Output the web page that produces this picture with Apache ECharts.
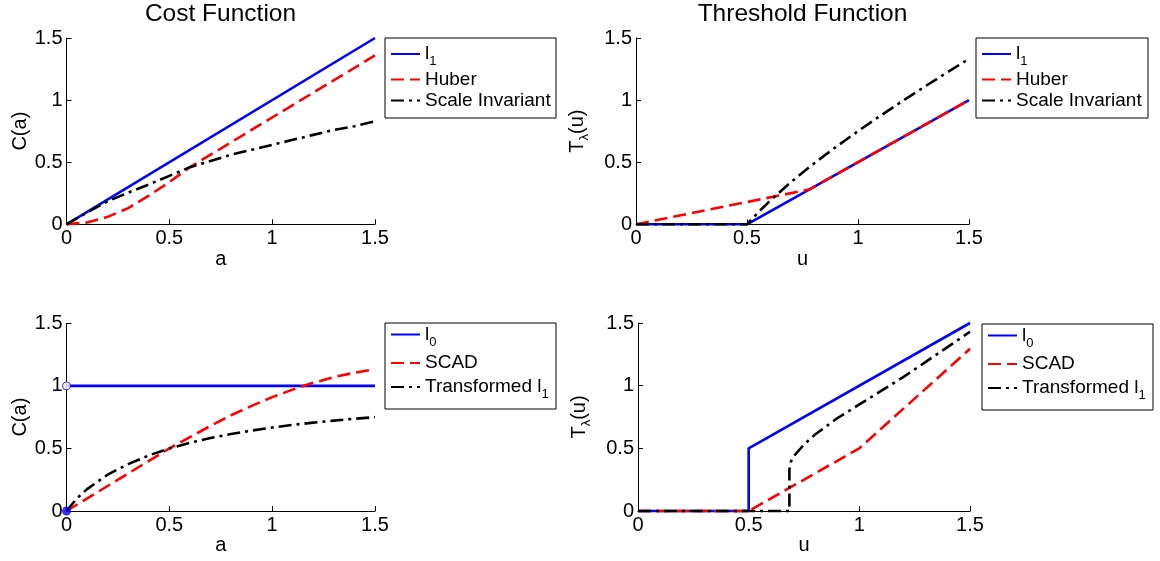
<!DOCTYPE html>
<html>
<head>
<meta charset="utf-8">
<script src="https://cdn.jsdelivr.net/npm/echarts@6/dist/echarts.min.js"></script>
<style>
html,body{margin:0;padding:0;background:#fff;}
#chart{width:1160px;height:561px;}
</style>
</head>
<body>
<div id="chart"></div>
<script>
// ---------- data ----------
const tickValues = [0, 0.5, 1, 1.5];
const tickLabels = ['0', '0.5', '1', '1.5'];
const titles = ['Cost Function', 'Threshold Function'];
const xNames = ['a', 'u', 'a', 'u'];

// Top-left: cost functions
const costL1X = [0, 1.5];
const costL1Y = [0, 1.5];
const costHuberX = [0, 0.1, 0.2, 0.3, 0.4, 0.5, 0.6, 0.75, 1.0, 1.25, 1.5];
const costHuberY = [0, 0.015, 0.06, 0.13, 0.23, 0.34, 0.46, 0.61, 0.86, 1.11, 1.36];
const costScaleX = [0, 0.1, 0.2, 0.3, 0.4, 0.5, 0.6, 0.7, 0.8, 0.9, 1.0, 1.1, 1.2, 1.3, 1.4, 1.5];
const costScaleY = [0, 0.095, 0.185, 0.255, 0.32, 0.39, 0.46, 0.51, 0.56, 0.60, 0.64, 0.68, 0.72, 0.76, 0.79, 0.83];

// Top-right: threshold functions
const thrL1X = [0, 0.5, 1.5];
const thrL1Y = [0, 0, 1.0];
const thrHuberX = [0, 0.78, 1.5];
const thrHuberY = [0, 0.28, 1.0];
const thrScaleX = [0, 0.5, 0.55, 0.6, 0.7, 0.8, 0.9, 1.0, 1.1, 1.2, 1.3, 1.4, 1.5];
const thrScaleY = [0, 0, 0.095, 0.183, 0.343, 0.488, 0.622, 0.75, 0.873, 0.992, 1.108, 1.221, 1.333];

// Bottom-left: cost functions
const costL0X = [0, 1.5];
const costL0Y = [1, 1];
const costL0OpenPoint = [0, 1];
const costL0FilledPoint = [0, 0];
const costScadX = [0, 0.5, 0.6, 0.7, 0.8, 0.9, 1.0, 1.1, 1.2, 1.3, 1.4, 1.5];
const costScadY = [0, 0.5, 0.59, 0.68, 0.765, 0.84, 0.91, 0.97, 1.025, 1.07, 1.105, 1.133];
const costTl1X = [0, 0.05, 0.1, 0.2, 0.3, 0.4, 0.5, 0.6, 0.7, 0.8, 0.9, 1.0, 1.1, 1.2, 1.3, 1.4, 1.5];
const costTl1Y = [0, 0.1, 0.175, 0.29, 0.375, 0.444, 0.5, 0.545, 0.583, 0.615, 0.643, 0.667, 0.688, 0.706, 0.722, 0.737, 0.75];

// Bottom-right: threshold functions
const thrL0X = [0, 0.5, 0.5, 1.5];
const thrL0Y = [0, 0, 0.5, 1.5];
const thrScadX = [0, 0.5, 1.0, 1.5];
const thrScadY = [0, 0, 0.5, 1.294];
const thrTl1X = [0, 0.684, 0.684, 0.69, 0.70, 0.72, 0.75, 0.8, 0.9, 1.0, 1.1, 1.2, 1.3, 1.4, 1.5];
const thrTl1Y = [0, 0, 0.33, 0.39, 0.43, 0.47, 0.53, 0.61, 0.74, 0.85, 0.96, 1.07, 1.19, 1.31, 1.43];

const topNames = ['l1', 'Huber', 'Scale Invariant'];
const bottomNames = ['l0', 'SCAD', 'Transformed l1'];

// ---------- styling ----------
const FONT = '"Liberation Sans", Arial, Helvetica, sans-serif';
const TICK_FS = 20;
const LABEL_FS = 20;
const LEGEND_FS = 19;
const TITLE_FS = 24.5;
const grids = [
  {left: 66.5, top: 38, width: 308.5, height: 186.3},
  {left: 636, top: 38, width: 333, height: 186.3},
  {left: 66.5, top: 323.3, width: 308.5, height: 187.7},
  {left: 638, top: 323, width: 332, height: 188}
];
const styles = {
  'l1': {color: '#0000ff', type: 'solid'},
  'l0': {color: '#0000ff', type: 'solid'},
  'Huber': {color: '#ff0000', type: [13, 6]},
  'SCAD': {color: '#ff0000', type: [13, 6]},
  'Scale Invariant': {color: '#000000', type: [13, 5, 3, 5]},
  'Transformed l1': {color: '#000000', type: [13, 5, 3, 5]}
};

function zip(xs, ys) { return xs.map((x, i) => [x, ys[i]]); }

function rich(fs) {
  return {
    n: {fontSize: fs, fontFamily: FONT, color: '#000'},
    s: {fontSize: 13, fontFamily: FONT, color: '#000', padding: [15, 0, 0, 0]}
  };
}

function legendFmt(name) {
  if (name === 'l1') return '{n|l}{s|1}';
  if (name === 'l0') return '{n|l}{s|0}';
  if (name === 'Transformed l1') return '{n|Transformed l}{s|1}';
  return '{n|' + name + '}';
}

function xAxis(i) {
  return {
    type: 'value', gridIndex: i, min: 0, max: 1.5, interval: 0.5,
    name: xNames[i], nameLocation: 'middle', nameGap: 20,
    nameTextStyle: {fontSize: LABEL_FS, color: '#000', fontFamily: FONT},
    axisLine: {show: true, onZero: false, lineStyle: {color: '#000', width: 1}},
    axisTick: {show: true, inside: true, length: 5, lineStyle: {color: '#000', width: 1}},
    axisLabel: {fontSize: TICK_FS, color: '#000', fontFamily: FONT, margin: 4,
      showMinLabel: true, showMaxLabel: true,
      formatter: v => tickLabels[tickValues.indexOf(v)]},
    splitLine: {show: false}
  };
}
function yAxis(i, isThreshold) {
  return {
    type: 'value', gridIndex: i, min: 0, max: 1.5, interval: 0.5,
    name: isThreshold ? '{n|T}{s|λ}{n|(u)}' : '{n|C(a)}',
    nameLocation: 'middle', nameGap: isThreshold ? 45 : 36, nameRotate: 90,
    nameTextStyle: {fontSize: LABEL_FS, color: '#000', fontFamily: FONT, rich: rich(LABEL_FS)},
    axisLine: {show: true, onZero: false, lineStyle: {color: '#000', width: 1}},
    axisTick: {show: true, inside: true, length: 5, lineStyle: {color: '#000', width: 1}},
    axisLabel: {fontSize: TICK_FS, color: '#000', fontFamily: FONT, margin: 4,
      showMinLabel: true, showMaxLabel: true,
      formatter: v => tickLabels[tickValues.indexOf(v)]},
    splitLine: {show: false}
  };
}
function lineSeries(name, gi, xs, ys) {
  const st = styles[name];
  return {
    type: 'line', name: name, xAxisIndex: gi, yAxisIndex: gi,
    data: zip(xs, ys), symbol: 'none', showSymbol: false, clip: false,
    lineStyle: {color: st.color, width: 2.6, type: st.type},
    itemStyle: {color: st.color},
    emphasis: {disabled: true}, silent: true
  };
}
function legend(names, left, top, gap) {
  return {
    data: names, orient: 'vertical', left: left, top: top, padding: 0,
    itemWidth: 29, itemHeight: 12, itemGap: gap, selectedMode: false,
    itemStyle: {color: 'transparent', borderColor: 'transparent', borderWidth: 0, opacity: 0},
    formatter: legendFmt,
    textStyle: {fontSize: LEGEND_FS, color: '#000', fontFamily: FONT, rich: rich(LEGEND_FS)}
  };
}
function legendBox(x, y, w, h) {
  return {type: 'rect', left: x, top: y, z: 0,
    shape: {width: w, height: h},
    style: {fill: '#fff', stroke: '#000', lineWidth: 1}};
}

const option = {
  animation: false,
  backgroundColor: '#fff',
  textStyle: {fontFamily: FONT},
  title: [
    {text: titles[0], left: 220.5, top: 2, textAlign: 'center', padding: 0,
      textStyle: {fontSize: TITLE_FS, fontWeight: 'normal', color: '#000', fontFamily: FONT}},
    {text: titles[1], left: 802.5, top: 2, textAlign: 'center', padding: 0,
      textStyle: {fontSize: TITLE_FS, fontWeight: 'normal', color: '#000', fontFamily: FONT}}
  ],
  grid: grids,
  xAxis: [xAxis(0), xAxis(1), xAxis(2), xAxis(3)],
  yAxis: [yAxis(0, false), yAxis(1, true), yAxis(2, false), yAxis(3, true)],
  legend: [
    legend(topNames, 390, 44.5, 2),
    legend(topNames, 981, 44.5, 2),
    legend(bottomNames, 390, 325, 5),
    legend(bottomNames, 987, 326, 5)
  ],
  graphic: [
    legendBox(384.5, 37.5, 171, 80),
    legendBox(975.5, 37.5, 172, 80),
    legendBox(384.5, 322.5, 171, 86),
    legendBox(981.5, 323.5, 171, 86)
  ],
  series: [
    lineSeries('l1', 0, costL1X, costL1Y),
    lineSeries('Huber', 0, costHuberX, costHuberY),
    lineSeries('Scale Invariant', 0, costScaleX, costScaleY),

    lineSeries('l1', 1, thrL1X, thrL1Y),
    lineSeries('Huber', 1, thrHuberX, thrHuberY),
    lineSeries('Scale Invariant', 1, thrScaleX, thrScaleY),

    lineSeries('l0', 2, costL0X, costL0Y),
    lineSeries('SCAD', 2, costScadX, costScadY),
    lineSeries('Transformed l1', 2, costTl1X, costTl1Y),
    {type: 'scatter', name: 'l0 open', xAxisIndex: 2, yAxisIndex: 2, data: [costL0OpenPoint],
      symbol: 'circle', symbolSize: 8, clip: false, z: 5, silent: true,
      itemStyle: {color: '#fff', borderColor: '#0000ff', borderWidth: 1}},
    {type: 'scatter', name: 'l0 filled', xAxisIndex: 2, yAxisIndex: 2, data: [costL0FilledPoint],
      symbol: 'circle', symbolSize: 9, clip: false, z: 5, silent: true,
      itemStyle: {color: '#0000ff'}},

    lineSeries('l0', 3, thrL0X, thrL0Y),
    lineSeries('SCAD', 3, thrScadX, thrScadY),
    lineSeries('Transformed l1', 3, thrTl1X, thrTl1Y)
  ]
};

const chart = echarts.init(document.getElementById('chart'), null, {renderer: 'canvas'});
chart.setOption(option);
</script>
</body>
</html>
